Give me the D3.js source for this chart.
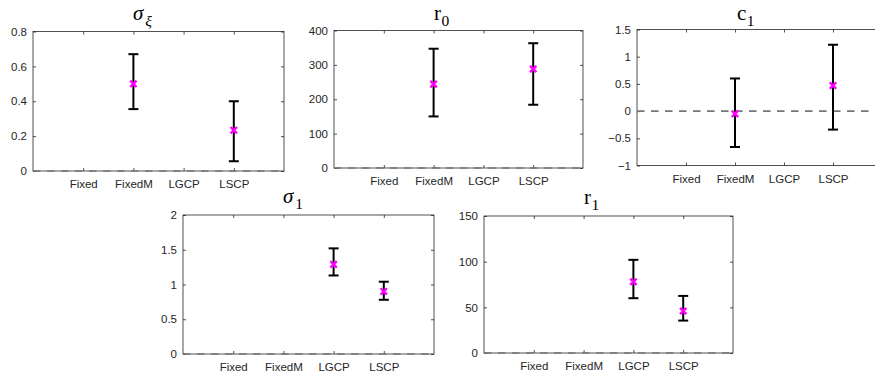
<!DOCTYPE html>
<html>
<head>
<meta charset="utf-8">
<script src="https://cdn.jsdelivr.net/npm/d3@7"></script>
<style>
  body { margin: 0; background: #fff; }
  svg { display: block; }
  .tick text { font-family: "Liberation Sans", Arial, sans-serif; font-size: 11.5px; fill: #262626; }
  .ttl { font-family: "Liberation Serif", "Times New Roman", serif; fill: #000; }
</style>
</head>
<body>
<svg id="mainSvg"></svg>
<script>
const methods = ['Fixed', 'FixedM', 'LGCP', 'LSCP'];

// title: main symbol, subscript, italic?
const titleMain = ['σ', 'r', 'c', 'σ', 'r'];
const titleSub = ['ξ', '0', '1', '1', '1'];
const titleItalic = [true, false, false, true, false];

// per-panel y ranges and ticks
const yDomains = [[0, 0.8], [0, 400], [-1, 1.5], [0, 2], [0, 150]];
const yTicks = [
    [0, 0.2, 0.4, 0.6, 0.8],
    [0, 100, 200, 300, 400],
    [-1, -0.5, 0, 0.5, 1, 1.5],
    [0, 0.5, 1, 1.5, 2],
    [0, 50, 100, 150]
];

// estimates (null = not estimated by that method)
const estSigmaXi = [null, 0.50, null, 0.234];
const lowSigmaXi = [null, 0.355, null, 0.056];
const highSigmaXi = [null, 0.67, null, 0.40];

const estR0 = [null, 244, null, 288];
const lowR0 = [null, 150, null, 184];
const highR0 = [null, 347, null, 363];

const estC1 = [null, -0.05, null, 0.47];
const lowC1 = [null, -0.66, null, -0.34];
const highC1 = [null, 0.60, null, 1.22];

const estSigma1 = [null, null, 1.29, 0.90];
const lowSigma1 = [null, null, 1.13, 0.78];
const highSigma1 = [null, null, 1.52, 1.04];

const estR1 = [null, null, 78, 46];
const lowR1 = [null, null, 60, 35.5];
const highR1 = [null, null, 102, 62.5];

const ests = [estSigmaXi, estR0, estC1, estSigma1, estR1];
const lows = [lowSigmaXi, lowR0, lowC1, lowSigma1, lowR1];
const highs = [highSigmaXi, highR0, highC1, highSigma1, highR1];

// panel boxes in the figure
const boxes = [
    { l: 33, t: 31.5, w: 251, h: 139.5 },
    { l: 334, t: 30.5, w: 249, h: 137.5 },
    { l: 637, t: 29.5, w: 245, h: 136 },
    { l: 183, t: 215, w: 251, h: 139 },
    { l: 484, t: 216, w: 249, h: 137 }
];

const W = 875, H = 378;
const svg = d3.select('#mainSvg').attr('width', W).attr('height', H);

boxes.forEach(function (b, p) {
    const g = svg.append('g').attr('transform', `translate(${b.l},${b.t})`);

    const x = d3.scaleLinear().domain([0, methods.length + 1]).range([0, b.w]);
    const y = d3.scaleLinear().domain(yDomains[p]).range([b.h, 0]);
    const xs = methods.map((m, i) => i + 1);

    // box frame
    g.append('rect')
        .attr('width', b.w).attr('height', b.h)
        .attr('fill', 'none').attr('stroke', '#262626').attr('stroke-width', 0.8);

    // axes, ticks pointing inward
    const axL = g.append('g').call(d3.axisLeft(y).tickValues(yTicks[p]).tickSize(-3).tickPadding(6).tickFormat(d3.format('')));
    const axR = g.append('g').attr('transform', `translate(${b.w},0)`)
        .call(d3.axisRight(y).tickValues(yTicks[p]).tickSize(-3).tickFormat(''));
    const axB = g.append('g').attr('transform', `translate(0,${b.h})`)
        .call(d3.axisBottom(x).tickValues(xs).tickSize(-3).tickPadding(9).tickFormat((d, i) => methods[i]));
    const axT = g.append('g')
        .call(d3.axisTop(x).tickValues(xs).tickSize(-3).tickFormat(''));
    [axL, axR, axB, axT].forEach(a => {
        a.select('.domain').remove();
        a.selectAll('.tick line').attr('stroke', '#262626').attr('stroke-width', 0.8);
    });

    // zero reference line
    g.append('line')
        .attr('x1', 0).attr('x2', b.w)
        .attr('y1', y(0)).attr('y2', y(0))
        .attr('stroke', '#757575').attr('stroke-width', 1.6)
        .attr('stroke-dasharray', '7.5,6.5');

    const pts = xs.map((v, i) => ({ x: v, m: ests[p][i], lo: lows[p][i], hi: highs[p][i] }))
        .filter(d => d.m !== null);

    // error bars
    const eb = g.append('g').attr('stroke', '#000').attr('stroke-width', 2);
    eb.selectAll('.stem').data(pts).join('line')
        .attr('x1', d => x(d.x)).attr('x2', d => x(d.x))
        .attr('y1', d => y(d.lo)).attr('y2', d => y(d.hi));
    ['lo', 'hi'].forEach(k => {
        eb.selectAll('.cap-' + k).data(pts).join('line')
            .attr('x1', d => x(d.x) - 5).attr('x2', d => x(d.x) + 5)
            .attr('y1', d => y(d[k])).attr('y2', d => y(d[k]));
    });

    // estimate markers (x)
    const s = 3.2;
    g.append('g').selectAll('path').data(pts).join('path')
        .attr('d', d => {
            const cx = x(d.x), cy = y(d.m);
            return `M${cx - s},${cy - s}L${cx + s},${cy + s}M${cx - s},${cy + s}L${cx + s},${cy - s}`;
        })
        .attr('stroke', '#ff00ff').attr('stroke-width', 2.4).attr('fill', 'none');

    // title
    const t = svg.append('text').attr('class', 'ttl')
        .attr('x', b.l + 100).attr('y', Math.max(b.t - 12.5, 19.5));
    t.append('tspan').text(titleMain[p])
        .attr('font-size', 21)
        .attr('font-style', titleItalic[p] ? 'italic' : 'normal');
    t.append('tspan').text(titleSub[p])
        .attr('font-size', 15.5)
        .attr('dy', 6)
        .attr('dx', titleItalic[p] ? 2 : 0.5)
        .attr('font-style', titleSub[p] === 'ξ' ? 'italic' : 'normal');
});
</script>
</body>
</html>
